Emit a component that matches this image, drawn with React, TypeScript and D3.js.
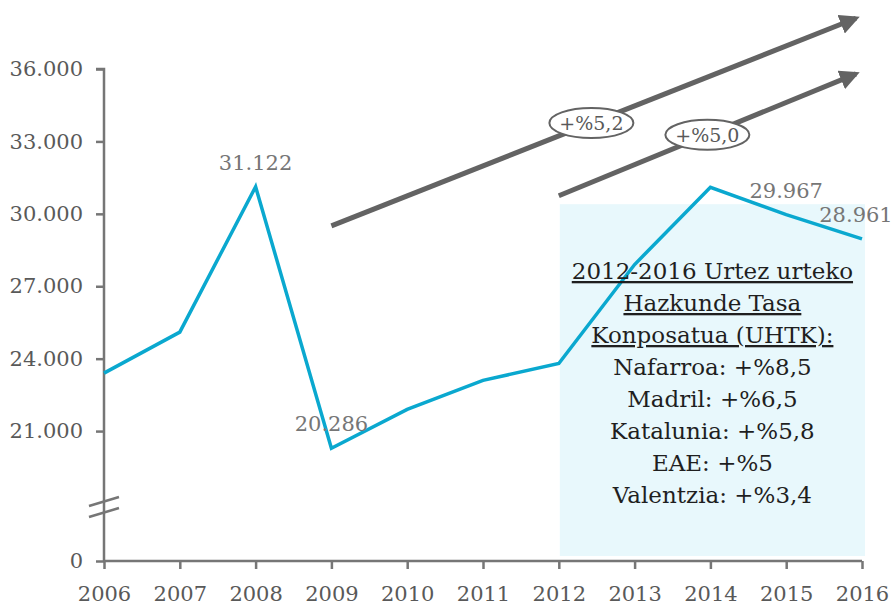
import * as d3 from 'd3';
import { useEffect, useRef } from 'react';

const width = 896;
const height = 609;

const years = [2006, 2007, 2008, 2009, 2010, 2011, 2012, 2013, 2014, 2015, 2016];
const values = [23400, 25100, 31122, 20286, 21900, 23100, 23800, 27900, 31100, 29967, 28961];
const labelled = [2008, 2009, 2015, 2016];
const yTicks = [0, 21000, 24000, 27000, 30000, 33000, 36000];

// arrows: [startYear, startValue, endYear, endValue]
const arrows = [
  { from: [2009, 29500], to: [2016, 38200], label: '+%5,2', at: 0.49 },
  { from: [2012, 30750], to: [2016, 35900], label: '+%5,0', at: 0.49 },
];

const boxLines = [
  { text: '2012-2016 Urtez urteko', underline: true },
  { text: 'Hazkunde Tasa', underline: true },
  { text: 'Konposatua (UHTK):', underline: true },
  { text: 'Nafarroa: +%8,5', underline: false },
  { text: 'Madril: +%6,5', underline: false },
  { text: 'Katalunia: +%5,8', underline: false },
  { text: 'EAE: +%5', underline: false },
  { text: 'Valentzia: +%3,4', underline: false },
];

const locale = d3.formatLocale({ decimal: ',', thousands: '.', grouping: [3], currency: ['', ''] });
const fmt = locale.format(',');

const font = 'DejaVu Serif';

function App() {
  const ref = useRef<HTMLDivElement>(null);

  useEffect(() => {
    const wrapper = d3.select(ref.current);
    const svg = wrapper.append('svg').attr('width', width).attr('height', height);

    const x = d3.scaleLinear().domain([2006, 2016]).range([104, 862]);
    const y = d3.scaleLinear().domain([0, 18000, 36000]).range([561, 503.5, 69]);

    svg
      .append('defs')
      .append('marker')
      .attr('id', 'arrowhead')
      .attr('viewBox', '0 0 10 10')
      .attr('refX', 8)
      .attr('refY', 5)
      .attr('markerWidth', 4)
      .attr('markerHeight', 4)
      .attr('orient', 'auto')
      .append('path')
      .attr('d', 'M0,0L10,5L0,10z')
      .attr('fill', '#636363');

    // shaded box
    svg
      .append('rect')
      .attr('x', x(2012) + 1)
      .attr('y', y(30400))
      .attr('width', x(2016) - x(2012) + 2)
      .attr('height', y(0) - 5 - y(30400))
      .attr('fill', '#e8f8fc');

    // y axis
    const yAxis = svg
      .append('g')
      .attr('transform', `translate(${x(2006)},0)`)
      .call(d3.axisLeft(y).tickValues(yTicks).tickFormat((d) => fmt(d as number)).tickSize(8).tickPadding(13));
    yAxis.select('.domain').attr('d', `M-8,${y(36000)}H0V${y(0)}`);

    // x axis
    const xAxis = svg
      .append('g')
      .attr('transform', `translate(0,${y(0)})`)
      .call(d3.axisBottom(x).tickValues(years).tickFormat((d) => String(d)).tickSize(8).tickPadding(17));
    xAxis.select('.domain').attr('d', `M${x(2006)},0H${x(2016)}`);

    svg.selectAll('.domain').attr('stroke', '#767676').attr('stroke-width', 2.5);
    svg.selectAll('.tick line').attr('stroke', '#767676').attr('stroke-width', 2.5);
    svg
      .selectAll('.tick text')
      .attr('font-family', font)
      .attr('font-size', 21)
      .attr('fill', '#595959');

    // axis break
    [0, 11].forEach((off) => {
      svg
        .append('line')
        .attr('x1', x(2006) - 15)
        .attr('y1', 506 + off)
        .attr('x2', x(2006) + 15)
        .attr('y2', 497 + off)
        .attr('stroke', '#767676')
        .attr('stroke-width', 2.5);
    });

    const pts = years.map((yr, i) => ({ yr, v: values[i] }));

    svg
      .append('path')
      .datum(pts)
      .attr('fill', 'none')
      .attr('stroke', '#0aa8cf')
      .attr('stroke-width', 3.5)
      .attr('stroke-linejoin', 'miter')
      .attr(
        'd',
        d3
          .line<(typeof pts)[number]>()
          .x((d) => x(d.yr))
          .y((d) => y(d.v))
      );

    svg
      .append('g')
      .selectAll('text')
      .data(pts.filter((d) => labelled.includes(d.yr)))
      .join('text')
      .attr('x', (d) => x(d.yr) + (d.yr === 2016 ? -6 : 0))
      .attr('y', (d) => y(d.v) - 17)
      .attr('text-anchor', 'middle')
      .attr('font-family', font)
      .attr('font-size', 21)
      .attr('fill', '#767676')
      .text((d) => fmt(d.v));

    // growth arrows
    arrows.forEach((a) => {
      const x1 = x(a.from[0]);
      const y1 = y(a.from[1]);
      const x2 = x(a.to[0]);
      const y2 = y(a.to[1]);
      svg
        .append('line')
        .attr('x1', x1)
        .attr('y1', y1)
        .attr('x2', x2 - 6)
        .attr('y2', y2 + 2.4)
        .attr('stroke', '#636363')
        .attr('stroke-width', 5)
        .attr('marker-end', 'url(#arrowhead)');
      const cx = x1 + (x2 - x1) * a.at;
      const cy = y1 + (y2 - y1) * a.at;
      svg
        .append('ellipse')
        .attr('cx', cx)
        .attr('cy', cy)
        .attr('rx', 42)
        .attr('ry', 15)
        .attr('fill', '#fff')
        .attr('stroke', '#636363')
        .attr('stroke-width', 2);
      svg
        .append('text')
        .attr('x', cx)
        .attr('y', cy + 7)
        .attr('text-anchor', 'middle')
        .attr('font-family', font)
        .attr('font-size', 19)
        .attr('fill', '#595959')
        .text(a.label);
    });

    // box text
    svg
      .append('g')
      .selectAll('text')
      .data(boxLines)
      .join('text')
      .attr('x', (x(2012) + x(2016)) / 2 + 2)
      .attr('y', (_, i) => 279 + i * 32)
      .attr('text-anchor', 'middle')
      .attr('font-family', font)
      .attr('font-size', 23)
      .attr('fill', '#1f1f1f')
      .attr('text-decoration', (d) => (d.underline ? 'underline' : 'none'))
      .text((d) => d.text);

    return () => {
      wrapper.select('svg').remove();
    };
  }, []);

  return <div ref={ref} style={{ position: 'absolute', left: 0, top: 0 }}></div>;
}

export default App;
